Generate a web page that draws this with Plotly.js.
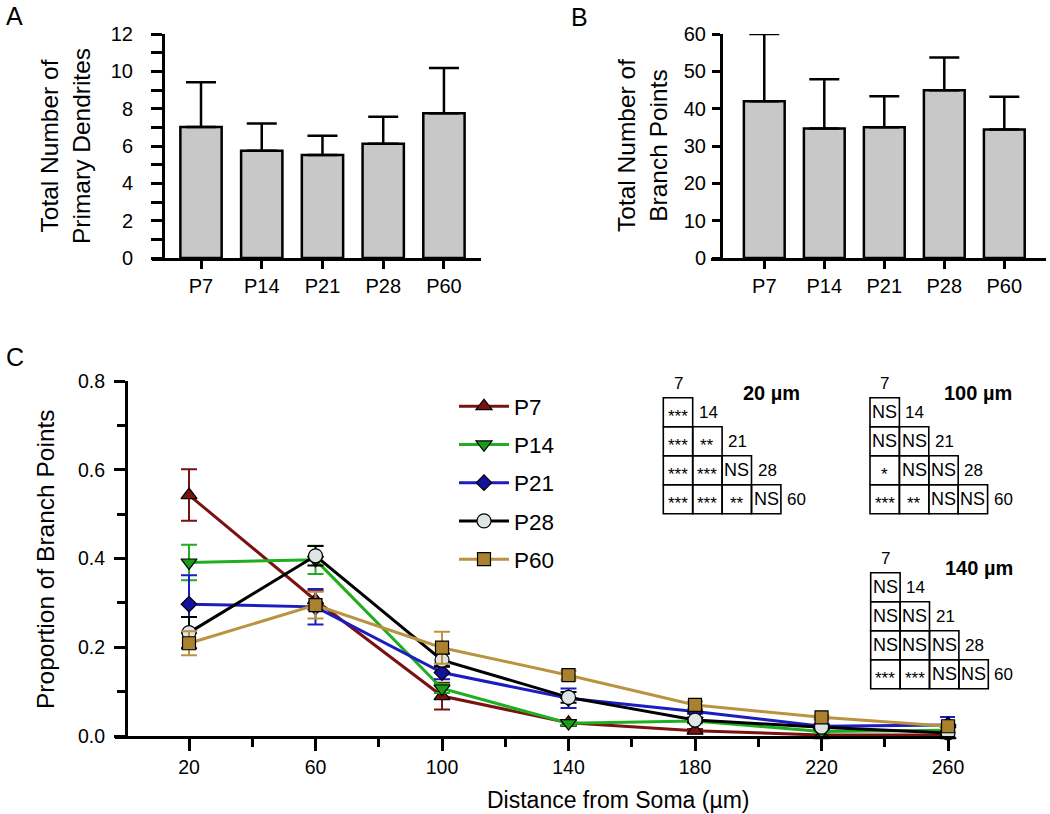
<!DOCTYPE html>
<html>
<head>
<meta charset="utf-8">
<script src="https://cdn.plot.ly/plotly-3.0.1.min.js"></script>
<style>
  html, body { margin: 0; padding: 0; background: #ffffff; }
  #chart { width: 1050px; height: 814px; }
</style>
</head>
<body>
<div id="chart"></div>
<script>
// ---------------- DATA ----------------
const ages = ['P7', 'P14', 'P21', 'P28', 'P60'];

// Panel A
const primaryDendrites = [7.02, 5.75, 5.52, 6.12, 7.75];
const primaryDendritesErr = [2.39, 1.46, 1.03, 1.45, 2.43];

// Panel B
const branchPoints = [42.0, 34.7, 35.0, 44.9, 34.4];
const branchPointsErr = [18.0, 13.2, 8.3, 8.8, 8.8];

// Panel C
const distances = [20, 60, 100, 140, 180, 220, 260];
const propP7  = [0.543, 0.306, 0.090, 0.030, 0.012, 0.002, 0.002];
const errP7   = [0.058, 0.021, 0.030, 0.005, 0.004, 0.002, 0.002];
const propP14 = [0.391, 0.397, 0.107, 0.029, 0.034, 0.010, 0.013];
const errP14  = [0.040, 0.032, 0.010, 0.005, 0.005, 0.003, 0.003];
const propP21 = [0.297, 0.291, 0.143, 0.085, 0.055, 0.022, 0.025];
const errP21  = [0.065, 0.040, 0.015, 0.022, 0.005, 0.005, 0.018];
const propP28 = [0.233, 0.406, 0.171, 0.087, 0.036, 0.020, 0.007];
const errP28  = [0.035, 0.022, 0.015, 0.012, 0.005, 0.005, 0.004];
const propP60 = [0.209, 0.295, 0.199, 0.137, 0.070, 0.042, 0.022];
const errP60  = [0.027, 0.030, 0.036, 0.010, 0.008, 0.004, 0.005];

const distanceTicks = [20, 60, 100, 140, 180, 220, 260];
const distanceMinorTicks = [40, 80, 120, 160, 200, 240];
const proportionTicks = [0, 0.2, 0.4, 0.6, 0.8];

// Significance tables (rows: 14, 21, 28, 60; columns: 7, 14, 21, 28)
const tableAges = ['7', '14', '21', '28', '60'];
const tableTitles = ['20 µm', '100 µm', '140 µm'];
const sig20  = [['***'], ['***', '**'], ['***', '***', 'NS'], ['***', '***', '**', 'NS']];
const sig100 = [['NS'], ['NS', 'NS'], ['*', 'NS', 'NS'], ['***', '**', 'NS', 'NS']];
const sig140 = [['NS'], ['NS', 'NS'], ['NS', 'NS', 'NS'], ['***', '***', 'NS', 'NS']];
const sigTables = [sig20, sig100, sig140];

// ---------------- LAYOUT HELPERS ----------------
const W = 1050, H = 814;
const px = v => v / W;
const py = v => 1 - v / H;
const FONT = 'Liberation Sans, Arial, Helvetica, sans-serif';

const seriesStyle = [
  { name: 'P7',  y: propP7,  e: errP7,  line: '#7a1212', fill: '#7a1212', symbol: 'triangle-up',   size: 14 },
  { name: 'P14', y: propP14, e: errP14, line: '#1fae1f', fill: '#1a9c1a', symbol: 'triangle-down', size: 14 },
  { name: 'P21', y: propP21, e: errP21, line: '#1c1cc0', fill: '#12129e', symbol: 'diamond',       size: 12 },
  { name: 'P28', y: propP28, e: errP28, line: '#000000', fill: '#dfe5e5', symbol: 'circle',        size: 14 },
  { name: 'P60', y: propP60, e: errP60, line: '#b9933f', fill: '#a9812f', symbol: 'square',        size: 13 }
];

const traces = [];

// Panel A bars
traces.push({
  type: 'bar', x: ages, y: primaryDendrites, xaxis: 'x', yaxis: 'y',
  marker: { color: '#c8c8c8', line: { color: '#000', width: 2.5 } },
  error_y: { type: 'data', symmetric: false, array: primaryDendritesErr,
             arrayminus: primaryDendritesErr.map(() => 0),
             color: '#000', thickness: 2.5, width: 15 },
  showlegend: false, hoverinfo: 'x+y'
});
// Panel B bars
traces.push({
  type: 'bar', x: ages, y: branchPoints, xaxis: 'x2', yaxis: 'y2',
  marker: { color: '#c8c8c8', line: { color: '#000', width: 2.5 } },
  error_y: { type: 'data', symmetric: false, array: branchPointsErr,
             arrayminus: branchPointsErr.map(() => 0),
             color: '#000', thickness: 2.5, width: 15 },
  showlegend: false, hoverinfo: 'x+y'
});
// Panel C lines
seriesStyle.forEach(s => {
  traces.push({
    type: 'scatter', mode: 'lines+markers', name: s.name, legendgroup: s.name,
    x: distances, y: s.y, xaxis: 'x3', yaxis: 'y3',
    line: { color: s.line, width: 3 },
    marker: { symbol: s.symbol, size: s.size, color: s.fill, line: { color: '#000', width: 1.2 } },
    error_y: { type: 'data', array: s.e, visible: true, color: s.line, thickness: 2, width: 8 },
    cliponaxis: false
  });
});

// ---------------- TABLES ----------------
const shapes = [];
const annotations = [];
const tableOrigins = [[663.3, 397.7], [870.0, 397.7], [870.7, 572.7]];
const cellW = 29.4, cellH = 29.0;

sigTables.forEach((tbl, t) => {
  const [x0, y0] = tableOrigins[t];
  tbl.forEach((row, r) => {
    row.forEach((txt, c) => {
      const cx0 = x0 + c * cellW, cy0 = y0 + r * cellH;
      shapes.push({ type: 'rect', xref: 'paper', yref: 'paper',
        x0: px(cx0), x1: px(cx0 + cellW), y0: py(cy0), y1: py(cy0 + cellH),
        line: { color: '#000', width: 1.6 }, fillcolor: 'rgba(0,0,0,0)' });
      const isStar = txt.indexOf('*') >= 0;
      annotations.push({ xref: 'paper', yref: 'paper', showarrow: false,
        x: px(cx0 + cellW / 2), y: py(cy0 + cellH / 2), xanchor: 'center', yanchor: 'middle',
        text: txt, yshift: isStar ? -4 : 0,
        font: { family: FONT, size: isStar ? 17 : 18, color: '#000' } });
    });
    // row label
    annotations.push({ xref: 'paper', yref: 'paper', showarrow: false,
      x: px(x0 + row.length * cellW + 4), y: py(y0 + r * cellH + cellH / 2),
      xanchor: 'left', yanchor: 'middle', text: tableAges[r + 1],
      font: { family: FONT, size: 17, color: '#000' } });
  });
  // column label
  annotations.push({ xref: 'paper', yref: 'paper', showarrow: false,
    x: px(x0 + cellW / 2), y: py(y0 - 14), xanchor: 'center', yanchor: 'middle',
    text: tableAges[0], font: { family: FONT, size: 17, color: '#000' } });
  // title
  annotations.push({ xref: 'paper', yref: 'paper', showarrow: false,
    x: px(x0 + 108), y: py(y0 - 5), xanchor: 'center', yanchor: 'middle',
    text: '<b>' + tableTitles[t] + '</b>', font: { family: FONT, size: 20, color: '#000' } });
});

// ---------------- TITLES / PANEL LABELS ----------------
const txt = (x, y, text, size, angle) => ({
  xref: 'paper', yref: 'paper', showarrow: false, x: px(x), y: py(y),
  xanchor: 'center', yanchor: 'middle', text: text, textangle: angle || 0,
  font: { family: FONT, size: size, color: '#000' }
});
annotations.push(txt(14, 16, 'A', 25));
annotations.push(txt(579, 17, 'B', 25));
annotations.push(txt(15, 357, 'C', 25));
annotations.push(txt(65, 146, 'Total Number of<br>Primary Dendrites', 24.5, -90));
annotations.push(txt(642, 146, 'Total Number of<br>Branch Points', 24.5, -90));
annotations.push(txt(45, 559, 'Proportion of Branch Points', 24.5, -90));
annotations.push(txt(618, 800, 'Distance from Soma (µm)', 23));

// ---------------- AXES ----------------
const baseAxis = {
  showline: true, linecolor: '#000', linewidth: 3, ticks: 'outside', tickcolor: '#000',
  tickwidth: 3, showgrid: false, zeroline: false, fixedrange: true,
  tickfont: { family: FONT, size: 20, color: '#000' }
};

const layout = {
  width: W, height: H, autosize: false,
  margin: { l: 0, r: 0, t: 0, b: 0, pad: 0 },
  paper_bgcolor: '#fff', plot_bgcolor: 'rgba(0,0,0,0)',
  font: { family: FONT, color: '#000' },
  bargap: 0.32,
  showlegend: true,
  legend: {
    x: px(454), y: py(385), xanchor: 'left', yanchor: 'top',
    font: { family: FONT, size: 22.5, color: '#000' },
    bgcolor: 'rgba(0,0,0,0)', borderwidth: 0,
    traceorder: 'grouped', tracegroupgap: 6, itemwidth: 50
  },
  xaxis: Object.assign({}, baseAxis, {
    domain: [px(152), px(481)], anchor: 'y', type: 'category',
    range: [-0.807, 4.61], ticklen: 8
  }),
  yaxis: Object.assign({}, baseAxis, {
    domain: [py(258), py(34)], anchor: 'free', position: px(163),
    range: [0, 12], dtick: 2, tick0: 0, ticklen: 11, ticklabelstandoff: 14,
    minor: { dtick: 1, tick0: 0, ticklen: 11, tickwidth: 3, tickcolor: '#000', ticks: 'outside' }
  }),
  xaxis2: Object.assign({}, baseAxis, {
    domain: [px(711), px(1046)], anchor: 'y2', type: 'category',
    range: [-0.888, 4.695], ticklen: 8
  }),
  yaxis2: Object.assign({}, baseAxis, {
    domain: [py(258), py(34)], anchor: 'free', position: px(721),
    range: [0, 60], dtick: 10, tick0: 0, ticklen: 8, ticklabelstandoff: 2
  }),
  xaxis3: Object.assign({}, baseAxis, {
    domain: [px(115), px(955)], anchor: 'y3',
    range: [-3.4, 262.2], tickmode: 'array', tickvals: distanceTicks,
    ticktext: distanceTicks.map(String), ticklen: 12,
    tickfont: { family: FONT, size: 19.5, color: '#000' },
    minor: { tickmode: 'array', tickvals: distanceMinorTicks, ticklen: 8, tickwidth: 3, tickcolor: '#000', ticks: 'outside' }
  }),
  yaxis3: Object.assign({}, baseAxis, {
    domain: [py(736), py(381)], anchor: 'free', position: px(126),
    range: [0, 0.8], tickmode: 'array', tickvals: proportionTicks,
    ticktext: proportionTicks.map(v => v.toFixed(1)), ticklen: 11, ticklabelstandoff: 5,
    tickfont: { family: FONT, size: 19.5, color: '#000' },
    minor: { dtick: 0.1, tick0: 0, ticklen: 8, tickwidth: 3, tickcolor: '#000', ticks: 'outside' }
  }),
  shapes: shapes,
  annotations: annotations
};

Plotly.newPlot('chart', traces, layout, { staticPlot: true, displayModeBar: false });
</script>
</body>
</html>
